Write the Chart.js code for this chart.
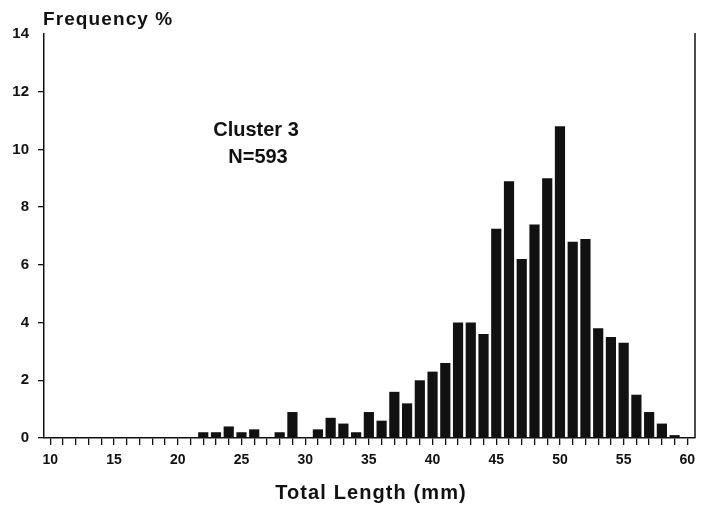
<!DOCTYPE html>
<html>
<head>
<meta charset="utf-8">
<title>Cluster 3 - Total Length</title>
<script src="https://cdn.jsdelivr.net/npm/chart.js@4.4.1/dist/chart.umd.min.js"></script>
<style>
    html, body { margin: 0; padding: 0; background: #fff; }
    #histChart { display: block; }
</style>
</head>
<body>
<canvas id="histChart" width="704" height="505"></canvas>
<script>
// ===============================================
// DATOS
// ===============================================
const longitudes = [22, 23, 24, 25, 26, 27, 28, 29, 30, 31, 32, 33, 34, 35, 36, 37, 38, 39, 40,
    41, 42, 43, 44, 45, 46, 47, 48, 49, 50, 51, 52, 53, 54, 55, 56, 57, 58, 59];
const frecuencias = [0.2, 0.2, 0.4, 0.2, 0.3, 0, 0.2, 0.9, 0, 0.3, 0.7, 0.5, 0.2, 0.9, 0.6, 1.6, 1.2, 2.0, 2.3,
    2.6, 4.0, 4.0, 3.6, 7.25, 8.9, 6.2, 7.4, 9.0, 10.8, 6.8, 6.9, 3.8, 3.5, 3.3, 1.5, 0.9, 0.5, 0.1];
const ticksX = [10, 11, 12, 13, 14, 15, 16, 17, 18, 19, 20, 21, 22, 23, 24, 25, 26, 27, 28, 29, 30,
    31, 32, 33, 34, 35, 36, 37, 38, 39, 40, 41, 42, 43, 44, 45, 46, 47, 48, 49, 50,
    51, 52, 53, 54, 55, 56, 57, 58, 59, 60];
const ticksY = [0, 2, 4, 6, 8, 10, 12, 14];
const etiquetaCluster = ["Cluster 3", "N=593"];
const tituloX = "Total Length (mm)";
const tituloY = "Frequency %";

const FUENTE = "'Liberation Sans', Arial, sans-serif";
const NEGRO = "#111";

// ===============================================
// TEXTOS Y BORDE DERECHO
// ===============================================
const extras = {
    id: "extras",
    afterDraw(chart) {
        const { ctx, chartArea } = chart;
        ctx.save();

        // borde derecho
        ctx.strokeStyle = NEGRO;
        ctx.lineWidth = 1.5;
        ctx.beginPath();
        ctx.moveTo(chartArea.right, chartArea.top - 1);
        ctx.lineTo(chartArea.right, chartArea.bottom);
        ctx.stroke();

        ctx.fillStyle = NEGRO;
        ctx.textBaseline = "alphabetic";

        // titulo del eje Y arriba
        ctx.font = "bold 19px " + FUENTE;
        ctx.letterSpacing = "1.1px";
        ctx.textAlign = "left";
        ctx.fillText(tituloY, 43, 25);

        // titulo del eje X
        ctx.font = "bold 20px " + FUENTE;
        ctx.letterSpacing = "1.1px";
        ctx.textAlign = "center";
        ctx.fillText(tituloX, 371, 499);

        // etiqueta del grupo
        ctx.letterSpacing = "0px";
        ctx.font = "bold 20px " + FUENTE;
        ctx.fillText(etiquetaCluster[0], 256, 136);
        ctx.fillText(etiquetaCluster[1], 258, 163);
        ctx.restore();
    }
};

// ===============================================
// GRAFICA
// ===============================================
const ctx = document.getElementById("histChart").getContext("2d");

new Chart(ctx, {
    type: "bar",
    data: {
        labels: longitudes,
        datasets: [{
            data: frecuencias,
            backgroundColor: NEGRO,
            borderWidth: 0,
            categoryPercentage: 1.0,
            barPercentage: 0.8,
        }],
    },
    options: {
        responsive: false,
        animation: false,
        layout: { padding: { top: 34, right: 9, bottom: 0, left: 0 } },
        plugins: {
            legend: { display: false },
            tooltip: { enabled: false },
        },
        scales: {
            x: {
                type: "linear",
                offset: false,
                min: 9.5,
                max: 60.6,
                afterFit: (scale) => { scale.height = 67; },
                afterBuildTicks: (scale) => { scale.ticks = ticksX.map(v => ({ value: v })); },
                border: { display: true, color: NEGRO, width: 1.5 },
                grid: {
                    display: true,
                    offset: false,
                    drawOnChartArea: false,
                    drawTicks: true,
                    tickLength: 7,
                    color: NEGRO,
                    lineWidth: 1.3,
                },
                ticks: {
                    autoSkip: false,
                    maxRotation: 0,
                    padding: 7,
                    color: NEGRO,
                    font: { family: FUENTE, size: 14, weight: "bold" },
                    callback: (v) => (v % 5 === 0 ? String(v) : ""),
                },
            },
            y: {
                min: 0,
                max: 14,
                afterFit: (scale) => { scale.width = 44; },
                afterBuildTicks: (scale) => { scale.ticks = ticksY.map(v => ({ value: v })); },
                border: { display: true, color: NEGRO, width: 1.5 },
                grid: {
                    display: true,
                    drawOnChartArea: false,
                    drawTicks: true,
                    tickLength: 6,
                    lineWidth: 1.3,
                    color: (c) => (c.tick && c.tick.value === 14 ? "rgba(0,0,0,0)" : NEGRO),
                },
                ticks: {
                    padding: 9,
                    color: NEGRO,
                    font: { family: FUENTE, size: 15, weight: "bold" },
                },
            },
        },
    },
    plugins: [extras],
});
</script>
</body>
</html>
